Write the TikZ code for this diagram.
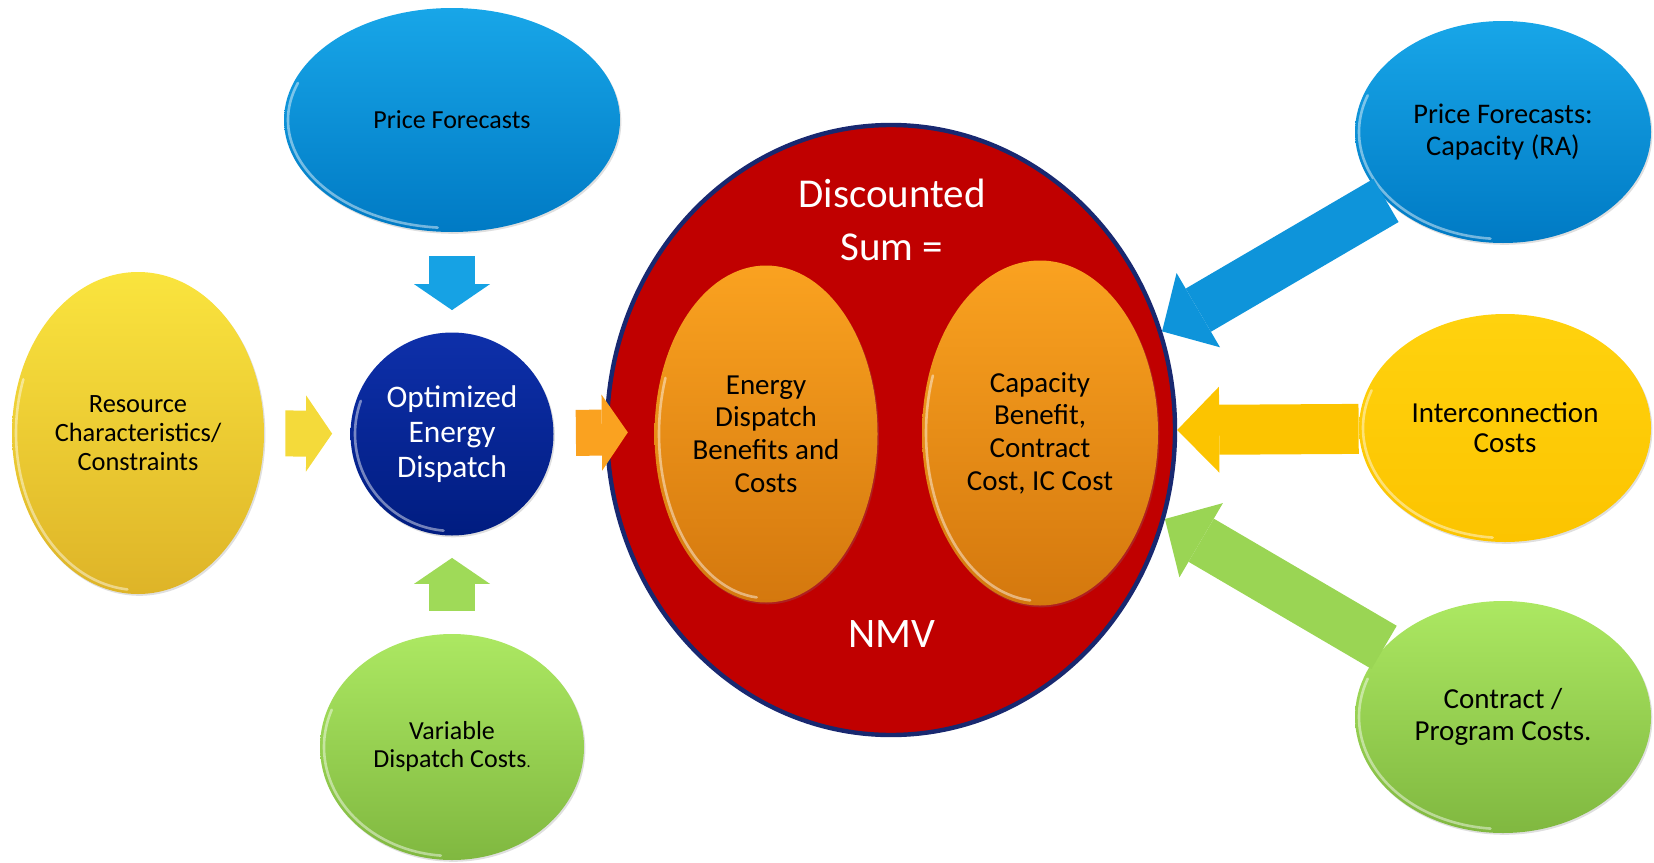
\documentclass[tikz,border=0pt]{standalone}
\usepackage{fontspec}
\setmainfont{Carlito}
\usetikzlibrary{arrows.meta,shapes.geometric,shadows,calc}
\definecolor{skytop}{RGB}{24,166,232}
\definecolor{skybot}{RGB}{0,122,196}
\definecolor{goldtop}{RGB}{250,228,62}
\definecolor{goldbot}{RGB}{222,180,40}
\definecolor{ambertop}{RGB}{255,210,14}
\definecolor{amberbot}{RGB}{252,196,0}
\definecolor{limetop}{RGB}{172,232,98}
\definecolor{limebot}{RGB}{128,184,64}
\definecolor{navytop}{RGB}{14,48,170}
\definecolor{navybot}{RGB}{0,28,128}
\definecolor{nmvred}{RGB}{192,0,0}
\definecolor{nmvrim}{RGB}{24,40,112}
\definecolor{orgtop}{RGB}{250,162,32}
\definecolor{orgbot}{RGB}{212,120,14}
\tikzset{
  bubble/.style={ellipse,align=center,inner sep=0pt,
    drop shadow={shadow xshift=0.7pt,shadow yshift=-0.9pt,opacity=0.25}},
  skybub/.style={bubble,top color=skytop,bottom color=skybot},
  goldbub/.style={bubble,top color=goldtop,bottom color=goldbot},
  amberbub/.style={bubble,top color=ambertop,bottom color=amberbot},
  limebub/.style={bubble,top color=limetop,bottom color=limebot},
  orgbub/.style={bubble,top color=orgtop,bottom color=orgbot},
  rim/.style={white,opacity=0.45,line width=1.3pt,line cap=round},
  fatarrow/.style={line width=23pt,-{Triangle[width=38pt,length=13pt,line width=0pt]}},
  bigarrow/.style={line width=25pt,-{Triangle[width=43pt,length=21pt,line width=0pt]}}
}

\begin{document}
\begin{tikzpicture}[x=0.5pt,y=-0.5pt]
  \useasboundingbox (0,0) rectangle (1654,862);

  % inputs to the dispatch model
  \node[skybub,minimum width=168pt,minimum height=112pt,
    font=\fontsize{13pt}{15pt}\selectfont] (pf) at (452,120) {Price Forecasts};
  \node[goldbub,minimum width=126pt,minimum height=161pt,
    font=\fontsize{13.2pt}{14.5pt}\selectfont] (res) at (138,433)
    {Resource\\Characteristics/\\Constraints};
  \node[limebub,minimum width=132pt,minimum height=113pt,
    font=\fontsize{13pt}{14pt}\selectfont] (var) at (452,747)
    {Variable\\Dispatch Costs{\fontsize{8pt}{8pt}\selectfont.}};
  \node[bubble,circle,top color=navytop,bottom color=navybot,minimum size=101.5pt,
    text=white,font=\fontsize{15.7pt}{17.5pt}\selectfont] (opt) at (452,434)
    {Optimized\\Energy\\Dispatch};

  % NMV
  \node[bubble,draw=nmvrim,line width=2.2pt,fill=nmvred,
    minimum width=284pt,minimum height=305pt] (nmv) at (891,430) {};
  \node[text=white,align=center,font=\fontsize{20.5pt}{26.5pt}\selectfont] (sum)
    at (892,220) {Discounted\\Sum =};
  \node[text=white,font=\fontsize{21pt}{24pt}\selectfont] (nmvlbl) at (892,634) {NMV};
  \node[orgbub,minimum width=111.5pt,minimum height=168.5pt,
    font=\fontsize{14.5pt}{16.3pt}\selectfont] (ed) at (766,434)
    {Energy\\Dispatch\\Benefits and\\Costs};
  \node[orgbub,minimum width=118pt,minimum height=172.5pt,
    font=\fontsize{14.5pt}{16.3pt}\selectfont] (cap) at (1040,433)
    {Capacity\\Benefit,\\Contract\\Cost, IC Cost};

  % capacity side inputs
  \node[skybub,minimum width=148pt,minimum height=111pt,
    font=\fontsize{14.2pt}{16pt}\selectfont] (pfc) at (1503,132)
    {Price Forecasts:\\Capacity (RA)};
  \node[amberbub,minimum width=146pt,minimum height=114pt,
    font=\fontsize{14.5pt}{15pt}\selectfont] (ic) at (1505,428)
    {Interconnection\\Costs};
  \node[limebub,minimum width=148pt,minimum height=116pt,
    font=\fontsize{14.5pt}{16pt}\selectfont] (ce) at (1503,717)
    {Contract /\\Program Costs.};

  % glossy edges
  \foreach \n/\rx/\ry in {pf/164/108,res/122/157,var/128/109,opt/97/97,ed/107/164,
      cap/114/168,pfc/144/107,ic/142/110,ce/144/112}
    \draw[rim] ($(\n.center)+({\rx*cos(200)},{\ry*sin(200)})$)
      arc[start angle=200,end angle=95,x radius=\rx,y radius=\ry];

  % block arrows
  \draw[fatarrow,color=skytop!90!skybot,shorten <=12pt,shorten >=11pt] (pf) -- (opt);
  \draw[fatarrow,color=limetop!70!limebot,shorten <=11.5pt,shorten >=11pt] (var) -- (opt);
  \draw[fatarrow,color=goldtop!80!goldbot,shorten <=10.5pt,shorten >=9pt] (res) -- (opt);
  \draw[fatarrow,color=orgtop,shorten <=11pt,shorten >=-11.5pt] (opt) -- (nmv);
  \draw[bigarrow,color=skytop!60!skybot] (pfc) -- (nmv.20);
  \draw[bigarrow,color=amberbot] (ic) -- (nmv.east);
  \draw[bigarrow,color=limetop!60!limebot] (ce) -- (nmv.-18);
\end{tikzpicture}
\end{document}
